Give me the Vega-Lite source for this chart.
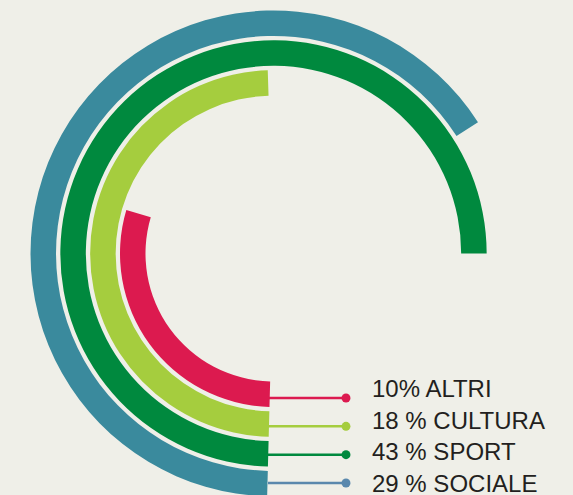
{
  "$schema": "https://vega.github.io/schema/vega-lite/v6.json",
  "width": 547,
  "height": 507,
  "autosize": "none",
  "padding": {"left": 0, "top": 0, "right": 26, "bottom": 0},
  "background": "#efefe8",
  "config": {"view": {"stroke": null}},
  "data": {
    "values": [
      {"label": "ALTRI", "pct": 10, "ring": 1, "sweep": 105, "text": "10% ALTRI"},
      {"label": "CULTURA", "pct": 18, "ring": 2, "sweep": 176.7, "text": "18 % CULTURA"},
      {"label": "SPORT", "pct": 43, "ring": 3, "sweep": 268.5, "text": "43 % SPORT"},
      {"label": "SOCIALE", "pct": 29, "ring": 4, "sweep": 235.8, "text": "29 % SOCIALE"}
    ]
  },
  "layer": [
    {
      "mark": {"type": "arc", "radius2Offset": -25.5},
      "encoding": {
        "theta": {"field": "sweep", "type": "quantitative", "stack": null,
          "scale": {"domain": [0, 360], "range": [3.16777, 9.45096]}},
        "theta2": {"datum": 0},
        "radius": {"field": "ring", "type": "quantitative",
          "scale": {"type": "linear", "zero": false, "domain": [1, 4], "range": [153.5, 243]}},
        "radius2": {"field": "ring"},
        "color": {"field": "label", "type": "nominal", "legend": null,
          "scale": {"domain": ["ALTRI", "CULTURA", "SPORT", "SOCIALE"],
                    "range": ["#dc1a4f", "#a5cd3e", "#00893e", "#3a8a9d"]}}
      }
    },
    {
      "mark": {"type": "rule", "strokeWidth": 2.5},
      "encoding": {
        "x": {"datum": 0, "type": "quantitative", "axis": null,
          "scale": {"domain": [0, 1], "range": [268, 372]}},
        "x2": {"datum": 0.75},
        "y": {"field": "ring", "type": "quantitative", "axis": null,
          "scale": {"zero": false, "domain": [1, 4], "range": [398, 483]}},
        "color": {"field": "label", "type": "nominal", "legend": null,
          "scale": {"domain": ["ALTRI", "CULTURA", "SPORT", "SOCIALE"],
                    "range": ["#dc1a4f", "#a5cd3e", "#00893e", "#5a88ad"]}}
      }
    },
    {
      "mark": {"type": "point", "filled": true, "size": 80, "opacity": 1},
      "encoding": {
        "x": {"datum": 0.75, "type": "quantitative", "axis": null},
        "y": {"field": "ring", "type": "quantitative", "axis": null,
          "scale": {"zero": false, "domain": [1, 4], "range": [398, 483]}},
        "color": {"field": "label", "type": "nominal", "legend": null,
          "scale": {"domain": ["ALTRI", "CULTURA", "SPORT", "SOCIALE"],
                    "range": ["#dc1a4f", "#a5cd3e", "#00893e", "#5a88ad"]}}
      }
    },
    {
      "mark": {"type": "text", "align": "left", "baseline": "alphabetic",
        "font": "Liberation Sans", "fontSize": 24, "color": "#231f20"},
      "encoding": {
        "x": {"datum": 1, "type": "quantitative", "axis": null},
        "y": {"field": "ring", "type": "quantitative", "axis": null,
          "scale": {"zero": false, "domain": [1, 4], "range": [397.3, 491.7]}},
        "text": {"field": "text"}
      }
    }
  ],
  "resolve": {"scale": {"y": "independent", "color": "independent"}}
}
